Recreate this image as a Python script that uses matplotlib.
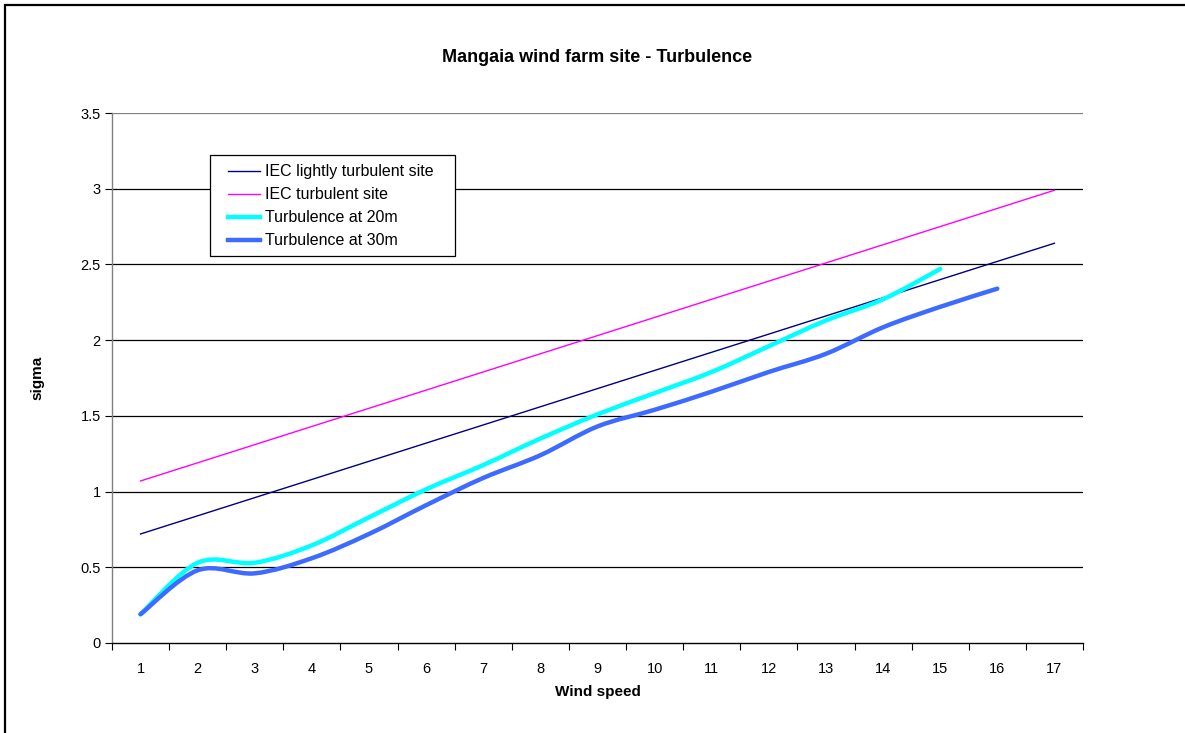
import numpy as np
import matplotlib
matplotlib.use("Agg")
import matplotlib.pyplot as plt
from matplotlib.path import Path
from matplotlib.patches import PathPatch, Rectangle
from matplotlib.lines import Line2D

plt.rcParams['font.family'] = ['Liberation Sans', 'DejaVu Sans']

# --- Data ---
speeds = list(range(1, 18))
iec_light = [0.72, 0.84, 0.96, 1.08, 1.20, 1.32, 1.44, 1.56, 1.68,
             1.80, 1.92, 2.04, 2.16, 2.28, 2.40, 2.52, 2.64]
iec_turb = [1.07, 1.19, 1.31, 1.43, 1.55, 1.67, 1.79, 1.91, 2.03,
            2.15, 2.27, 2.39, 2.51, 2.63, 2.75, 2.87, 2.99]
turb_20m = [0.19, 0.53, 0.53, 0.645, 0.83, 1.015, 1.175, 1.35, 1.51,
            1.65, 1.79, 1.96, 2.13, 2.27, 2.47]
turb_30m = [0.19, 0.48, 0.46, 0.56, 0.72, 0.91, 1.09, 1.24, 1.43,
            1.54, 1.66, 1.79, 1.91, 2.085, 2.22, 2.34]


def smooth_path(x, y):
    """Catmull-Rom style bezier through the points (like a smoothed spreadsheet line)."""
    pts = np.column_stack([x, y]).astype(float)
    n = len(pts)
    verts = [pts[0]]
    codes = [Path.MOVETO]
    for i in range(n - 1):
        p0 = pts[i - 1] if i > 0 else pts[i]
        p1 = pts[i]
        p2 = pts[i + 1]
        p3 = pts[i + 2] if i + 2 < n else pts[i + 1]
        c1 = p1 + (p2 - p0) / 6.0
        c2 = p2 - (p3 - p1) / 6.0
        verts += [c1, c2, p2]
        codes += [Path.CURVE4] * 3
    return Path(verts, codes)


fig = plt.figure(figsize=(11.85, 7.33), dpi=100)
ax = fig.add_axes([0.0945, 0.1228, 0.8194, 0.723])

# gridlines
for g in np.arange(0.5, 3.51, 0.5):
    ax.axhline(g, color='black' if g < 3.5 else '#808080', lw=0.9, zorder=1)

ax.plot(speeds, iec_light, color='#000080', lw=1.0, zorder=3)
ax.plot(speeds, iec_turb, color='#ff00ff', lw=1.0, zorder=3)

c20 = '#00ffff'
c30 = '#3d6bff'
ax.add_patch(PathPatch(smooth_path(speeds[:len(turb_20m)], turb_20m), fill=False,
                       edgecolor=c20, lw=3.2, capstyle='round', zorder=4))
ax.add_patch(PathPatch(smooth_path(speeds[:len(turb_30m)], turb_30m), fill=False,
                       edgecolor=c30, lw=3.2, capstyle='round', zorder=5))

ax.set_xlim(0.5, 17.5)
ax.set_ylim(0, 3.5)
ax.set_xticks(speeds)
ax.set_xticks(np.arange(0.5, 17.6, 1.0), minor=True)
ax.tick_params(axis='x', which='major', length=0, pad=13.5, labelsize=10.5)
ax.tick_params(axis='x', which='minor', length=5, width=0.8, direction='out', color='black')
ax.set_yticks(np.arange(0, 3.51, 0.5))
ax.set_yticklabels(['0', '0.5', '1', '1.5', '2', '2.5', '3', '3.5'])
ax.tick_params(axis='y', length=5, width=0.8, direction='out', color='black', labelsize=10.5, pad=3)

for s in ['top', 'right']:
    ax.spines[s].set_visible(False)
ax.spines['left'].set_color('#808080')
ax.spines['left'].set_linewidth(1.0)
ax.spines['bottom'].set_color('black')
ax.spines['bottom'].set_linewidth(1.0)

ax.set_xlabel('Wind speed', fontsize=11, fontweight='bold')
ax.set_ylabel('sigma', fontsize=11, fontweight='bold')
ax.xaxis.set_label_coords(0.5, -0.079)
ax.yaxis.set_label_coords(-0.070, 0.5)
fig.text(0.504, 0.921, 'Mangaia wind farm site - Turbulence', ha='center', va='center',
         fontsize=13, fontweight='bold')

handles = [
    Line2D([], [], color='#000080', lw=1.0),
    Line2D([], [], color='#ff00ff', lw=1.0),
    Line2D([], [], color=c20, lw=3.2),
    Line2D([], [], color=c30, lw=3.2),
]
labels = ['IEC lightly turbulent site', 'IEC turbulent site',
          'Turbulence at 20m', 'Turbulence at 30m']
leg = ax.legend(handles, labels, loc='upper left', bbox_to_anchor=(0.1195, 0.903),
                fontsize=11.5, frameon=False, handlelength=2.0, handletextpad=0.3,
                borderpad=0, labelspacing=0.5, borderaxespad=0)
leg.set_zorder(10)
# legend box
ax.add_patch(Rectangle((0.101, 0.730), 0.2523, 0.1906, transform=ax.transAxes,
                       facecolor='white', edgecolor='black', lw=0.9, zorder=9))

# outer chart frame
fig.patches.append(Rectangle((0.0042, -0.1), 1.2, 1.093, transform=fig.transFigure,
                             fill=False, edgecolor='black', lw=1.6))

fig.savefig('out.png', dpi=100, facecolor='white')
